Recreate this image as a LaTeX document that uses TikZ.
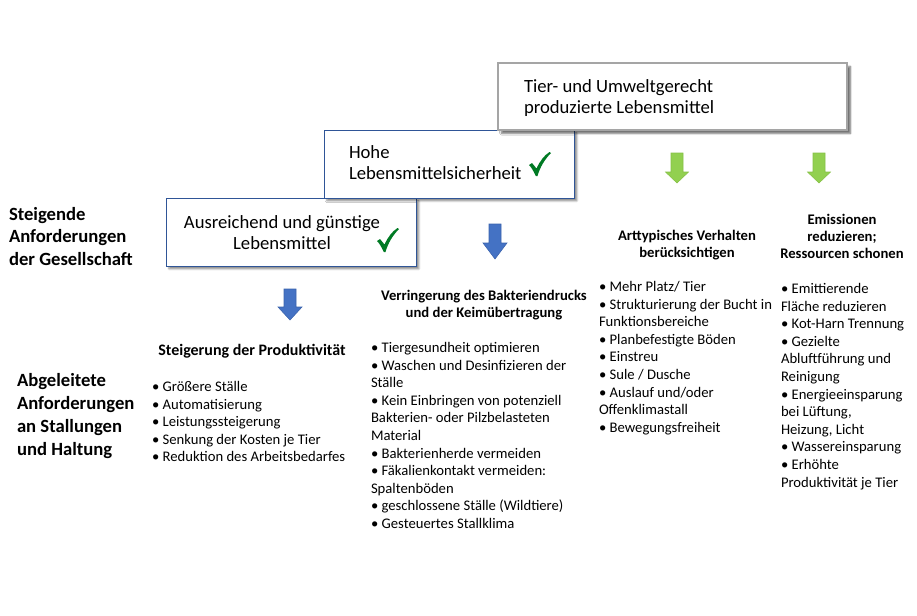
\documentclass[tikz,border=0pt]{standalone}
\usepackage{fontspec}
\setmainfont{Carlito}
\usetikzlibrary{shadows.blur}
\definecolor{boxblue}{HTML}{2F5597}
\definecolor{boxgray}{HTML}{A5A5A5}
\definecolor{arrblue}{HTML}{4472C4}
\definecolor{arrblueedge}{HTML}{3A62AC}
\definecolor{arrgreen}{HTML}{92D050}
\definecolor{arrgreenedge}{HTML}{86C046}
\definecolor{chkgreen}{RGB}{0,122,36}
\newcommand\fl{\rule{0pt}{0.8em}}
\begin{document}
\begin{tikzpicture}[x=0.75pt,y=-0.75pt,
  every node/.style={inner sep=0pt, outer sep=0pt},
  boxA/.style={draw=boxblue, line width=0.75pt, fill=white, rectangle,
    minimum width=187.5pt, minimum height=51pt,
    blur shadow={shadow xshift=2.2pt, shadow yshift=-2.2pt, shadow blur radius=1.3pt, shadow blur steps=5, shadow opacity=45}},
  boxB/.style={draw=boxgray, line width=1.1pt, fill=white, rectangle,
    minimum width=261.75pt, minimum height=50.25pt,
    blur shadow={shadow xshift=2.6pt, shadow yshift=-2.6pt, shadow blur radius=1.3pt, shadow blur steps=5, shadow opacity=55}},
  bigtxt/.style={font=\fontsize{14}{16.1}\selectfont, align=left, anchor=north west},
  sidetxt/.style={font=\bfseries\fontsize{14}{16.9}\selectfont, align=left, anchor=north west},
  headtxt/.style={font=\bfseries\fontsize{11}{12.75}\selectfont, align=center, anchor=north},
  listtxt/.style={font=\fontsize{11}{13.2}\selectfont, align=left, anchor=north west},
  bluearr/.style={fill=arrblue, draw=arrblueedge, line width=0.4pt},
  greenarr/.style={fill=arrgreen, draw=arrgreenedge, line width=0.4pt},
  chk/.pic={\fill[chkgreen] (0,13) .. controls (1.5,11.6) .. (3,11) -- (7.5,16.5)
      .. controls (11,9) and (15,3.5) .. (20.5,0) -- (22,1)
      .. controls (16,7) and (11,15) .. (8.5,24) -- (6.8,24)
      .. controls (4.5,19) and (2.5,15.5) .. (0,13) -- cycle;}
]
\useasboundingbox (0,0) rectangle (917,615);

% boxes
\node[boxA] (b1) at (291,232) {};
\node[boxA] (b2) at (449,164) {};
\node[boxB] (b3) at (672.5,96.5) {};

% box texts
\node[bigtxt] (t3) at (524,77.1) {\fl Tier- und Umweltgerecht\\produzierte Lebensmittel};
\node[bigtxt] (t2) at (349,143.1) {\fl Hohe\\Lebensmittelsicherheit};
\node[bigtxt, align=center, anchor=north] (t1) at (282,213.1) {\fl Ausreichend und günstige\\Lebensmittel};

% check marks
\pic at (529,152) {chk};
\pic at (377,228) {chk};

% side labels
\node[sidetxt] (s1) at (9,205.1) {\fl Steigende\\Anforderungen\\der Gesellschaft};
\node[sidetxt, font=\bfseries\fontsize{14}{17.25}\selectfont] (s2) at (17,371.1) {\fl Abgeleitete\\Anforderungen\\an Stallungen\\und Haltung};

% block arrows
\path[bluearr] (284,289) -- (296,289) -- (296,307) -- (302,307) -- (290,320) -- (278,307) -- (284,307) -- cycle;
\path[bluearr] (489,224) -- (501,224) -- (501,243) -- (507,243) -- (495,259) -- (483,243) -- (489,243) -- cycle;
\path[greenarr] (671,153) -- (683,153) -- (683,172) -- (688.5,172) -- (677,183) -- (665.5,172) -- (671,172) -- cycle;
\path[greenarr] (813,153) -- (825,153) -- (825,172) -- (830.5,172) -- (819,183) -- (807.5,172) -- (813,172) -- cycle;

% headings
\node[headtxt, font=\bfseries\fontsize{12}{12.75}\selectfont] (h1) at (252,342.2) {\fl Steigerung der Produktivität};
\node[headtxt] (h2) at (484,288.3) {\fl Verringerung des Bakteriendrucks\\und der Keimübertragung};
\node[headtxt] (h3) at (687,228.3) {\fl Arttypisches Verhalten\\berücksichtigen};
\node[headtxt, font=\bfseries\fontsize{11}{13.1}\selectfont] (h4) at (842,212.3) {\fl Emissionen\\reduzieren;\\Ressourcen schonen};

% lists
\node[listtxt] (l1) at (152,379.8) {\fl • Größere Ställe\\• Automatisierung\\• Leistungssteigerung\\• Senkung der Kosten je Tier\\• Reduktion des Arbeitsbedarfes};
\node[listtxt] (l2) at (371,340.8) {\fl • Tiergesundheit optimieren\\• Waschen und Desinfizieren der\\Ställe\\• Kein Einbringen von potenziell\\Bakterien- oder Pilzbelasteten\\Material\\• Bakterienherde vermeiden\\• Fäkalienkontakt vermeiden:\\Spaltenböden\\• geschlossene Ställe (Wildtiere)\\• Gesteuertes Stallklima};
\node[listtxt] (l3) at (599,279.8) {\fl • Mehr Platz/ Tier\\• Strukturierung der Bucht in\\Funktionsbereiche\\• Planbefestigte Böden\\• Einstreu\\• Sule / Dusche\\• Auslauf und/oder\\Offenklimastall\\• Bewegungsfreiheit};
\node[listtxt] (l4) at (781,281.8) {\fl • Emittierende\\Fläche reduzieren\\• Kot-Harn Trennung\\• Gezielte\\Abluftführung und\\Reinigung\\• Energieeinsparung\\bei Lüftung,\\Heizung, Licht\\• Wassereinsparung\\• Erhöhte\\Produktivität je Tier};
\end{tikzpicture}
\end{document}
